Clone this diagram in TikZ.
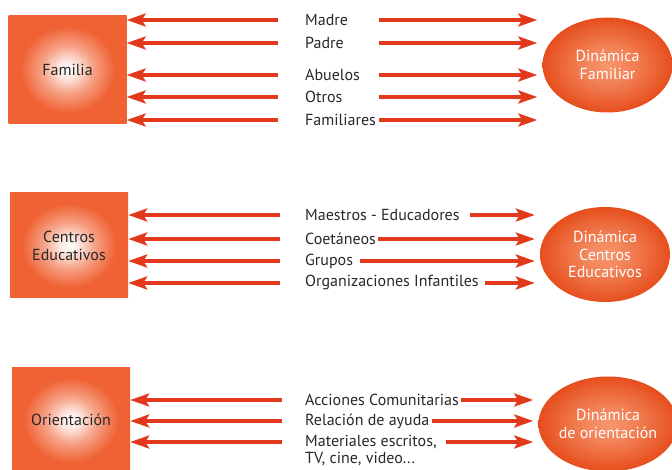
\documentclass[tikz,border=0pt]{standalone}
\usepackage{fontspec}
\setmainfont{PT Sans}
\usepackage{xcolor}
\usetikzlibrary{arrows.meta,positioning,shapes.geometric}
\definecolor{boxred}{RGB}{240,98,52}
\definecolor{arrred}{RGB}{226,56,28}
\definecolor{ellred}{RGB}{230,78,28}
\definecolor{ellin}{RGB}{247,150,110}
\definecolor{txt}{RGB}{40,40,40}
\pgfdeclareradialshading{glow}{\pgfpoint{0bp}{0bp}}{%
  color(0bp)=(white); color(4bp)=(white!85!boxred); color(11bp)=(white!40!boxred);
  color(20bp)=(boxred); color(50bp)=(boxred)}
\pgfdeclareradialshading{ellglow}{\pgfpoint{0bp}{0bp}}{%
  color(0bp)=(ellin); color(10bp)=(ellin!70!ellred); color(25bp)=(ellred); color(50bp)=(ellred)}
\tikzset{
  area/.style={rectangle, draw=none, shading=glow, minimum width=118pt, minimum height=#1,
               align=center, text=txt, font=\fontsize{16}{18}\selectfont},
  area/.default={108pt},
  dyn/.style={ellipse, draw=none, shading=ellglow, minimum width=130pt, minimum height=95pt,
              align=center, text=white, inner sep=0pt, font=\fontsize{16}{17.5}\selectfont},
  lbl/.style={anchor=west, inner sep=0pt, text=txt, font=\fontsize{16}{18}\selectfont},
  arr/.style={-{Stealth[length=19pt, width=13pt, inset=4pt]}, line width=3.6pt, arrred},
}
\begin{document}
\begin{tikzpicture}[x=1pt,y=-1pt]
\useasboundingbox (0,0) rectangle (672,470);
% areas and dynamics
\node[area]        (fam) at (67.5,69.5) {Familia};
\node[area=105pt]  (edu) at (69,245.5)  {Centros\\Educativos};
\node[area=106pt]  (ori) at (71,420)    {Orientación};
\node[dyn] (dfam) at (607.5,65)  {Dinámica\\Familiar};
\node[dyn] (dedu) at (605,254.5) {Dinámica\\Centros\\Educativos};
\node[dyn] (dori) at (608,424)   {Dinámica\\de orientación};
% family members
\node[lbl] (madre) at (305,20)  {Madre};
\node[lbl] (padre) at (305,43)  {Padre};
\node[lbl] (abue)  at (305,75)  {Abuelos};
\node[lbl] (otros) at (305,97)  {Otros};
\node[lbl] (famil) at (305,120) {Familiares};
% school
\node[lbl] (maes)  at (305,215) {Maestros - Educadores};
\node[lbl] (coet)  at (305,239) {Coetáneos};
\node[lbl] (grup)  at (305,261) {Grupos};
\node[lbl] (orga)  at (305,283) {Organizaciones Infantiles};
% guidance
\node[lbl] (acci)  at (305,400) {Acciones Comunitarias};
\node[lbl] (rela)  at (305,421) {Relación de ayuda};
\node[lbl] (mate)  at (305,442) {Materiales escritos,};
\node[lbl] (tv)    at (305,459) {TV, cine, video...};
% arrows towards the areas
\draw[arr] ([xshift=-27pt]madre.west) -- (fam.east |- madre);
\draw[arr] ([xshift=-27pt]padre.west) -- (fam.east |- padre);
\draw[arr] ([xshift=-27pt]abue.west)  -- (fam.east |- abue);
\draw[arr] ([xshift=-27pt]otros.west) -- (fam.east |- otros);
\draw[arr] ([xshift=-27pt]famil.west) -- (fam.east |- famil);
\draw[arr] ([xshift=-25pt]maes.west)  -- (edu.east |- maes);
\draw[arr] ([xshift=-25pt]coet.west)  -- (edu.east |- coet);
\draw[arr] ([xshift=-25pt]grup.west)  -- (edu.east |- grup);
\draw[arr] ([xshift=-25pt]orga.west)  -- (edu.east |- orga);
\draw[arr] ([xshift=-23pt]acci.west)  -- (ori.east |- acci);
\draw[arr] ([xshift=-23pt]rela.west)  -- (ori.east |- rela);
\draw[arr] ([xshift=-23pt]mate.west)  -- (ori.east |- mate);
% arrows towards the dynamics
\draw[arr] (madre.west -| famil.east) ++(3pt,0) -- ([xshift=-5pt]dfam.west |- madre);
\draw[arr] (padre.west -| famil.east) ++(3pt,0) -- ([xshift=-5pt]dfam.west |- padre);
\draw[arr] (abue.west -| famil.east)  ++(3pt,0) -- ([xshift=-5pt]dfam.west |- abue);
\draw[arr] (otros.west -| famil.east) ++(3pt,0) -- ([xshift=-5pt]dfam.west |- otros);
\draw[arr] ([xshift=3pt]famil.east) -- ([xshift=-5pt]dfam.west |- famil);
\draw[arr] ([xshift=10pt]maes.east) -- ([xshift=-5pt]dedu.west |- maes);
\draw[arr] ([xshift=2pt]coet.east)  -- ([xshift=-5pt]dedu.west |- coet);
\draw[arr] ([xshift=7pt]grup.east)  -- ([xshift=-5pt]dedu.west |- grup);
\draw[arr] ([xshift=6pt]orga.east)  -- ([xshift=-5pt]dedu.west |- orga);
\draw[arr] ([xshift=2pt]acci.east)  -- ([xshift=-5pt]dori.west |- acci);
\draw[arr] ([xshift=2pt]rela.east)  -- ([xshift=-5pt]dori.west |- rela);
\draw[arr] ([xshift=9pt]mate.east)  -- ([xshift=-5pt]dori.west |- mate);
\end{tikzpicture}
\end{document}
